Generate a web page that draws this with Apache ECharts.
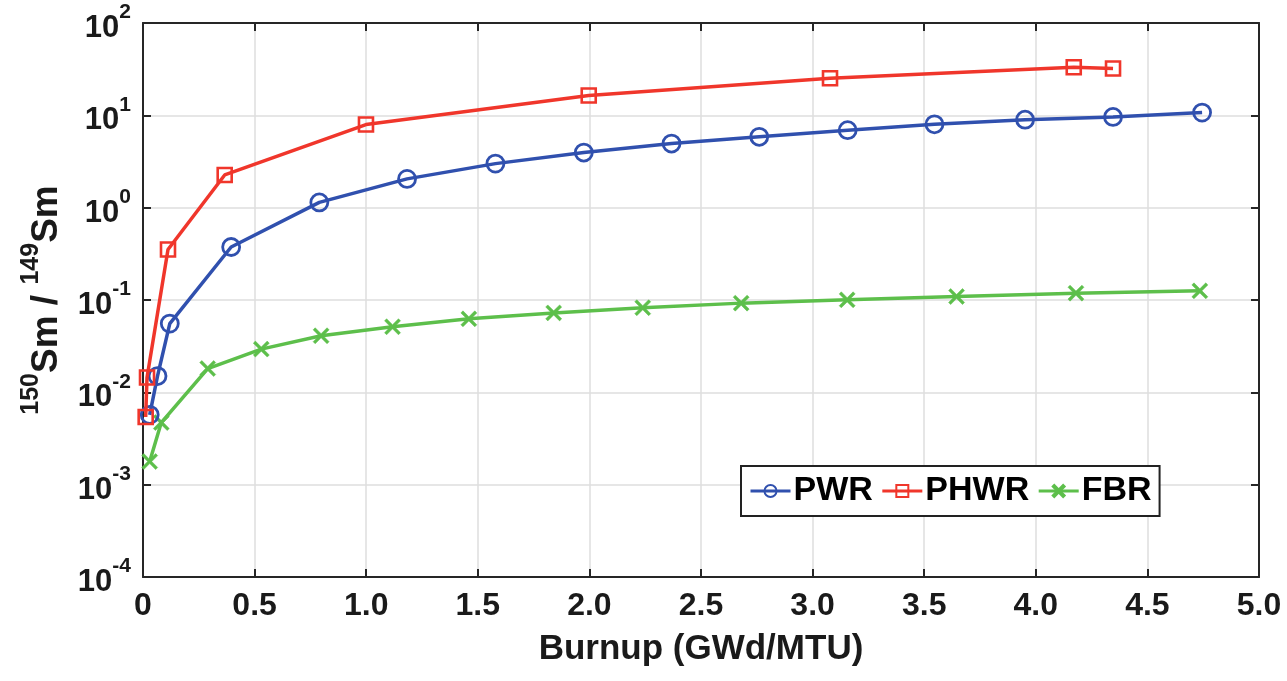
<!DOCTYPE html>
<html>
<head>
<meta charset="utf-8">
<script src="https://cdn.jsdelivr.net/npm/echarts@6/dist/echarts.min.js"></script>
<style>html,body{margin:0;padding:0;background:#fff;}#c{width:1287px;height:681px;}</style>
</head>
<body>
<div id="c"></div>
<script>
// ---- data ----
var pwrX = [0.03, 0.065, 0.12, 0.395, 0.79, 1.183, 1.579, 1.975, 2.368, 2.761, 3.157, 3.546, 3.952, 4.346, 4.745];
var pwrY = [0.0057, 0.0150, 0.0555, 0.375, 1.14, 2.05, 3.0, 3.95, 4.95, 5.85, 6.9, 8.0, 8.97, 9.6, 10.7];

var phwrX = [0.012, 0.018, 0.112, 0.366, 0.999, 1.997, 3.078, 4.17, 4.346];
var phwrY = [0.0054, 0.0145, 0.352, 2.26, 7.95, 16.4, 25.2, 33.2, 32.1];

var fbrX = [0.03, 0.082, 0.29, 0.53, 0.798, 1.118, 1.46, 1.84, 2.239, 2.68, 3.155, 3.645, 4.18, 4.735];
var fbrY = [0.00178, 0.0047, 0.0181, 0.0294, 0.041, 0.0513, 0.0625, 0.0725, 0.0825, 0.0925, 0.1005, 0.109, 0.1186, 0.1256];

var seriesNames = ['PWR', 'PHWR', 'FBR'];
var xTicks = ['0', '0.5', '1.0', '1.5', '2.0', '2.5', '3.0', '3.5', '4.0', '4.5', '5.0'];
var xTitle = 'Burnup (GWd/MTU)';
// -------------

function pairs(xs, ys) { return xs.map(function (x, i) { return [x, ys[i]]; }); }

var FONT = '"Liberation Sans", Arial, Helvetica, sans-serif';
var BLUE = '#3050ae', RED = '#f0362b', GREEN = '#5dbf4b', AX = '#262626', GRID = '#dedede', TXT = '#1a1a1a';
var XSYM = 'path://M0,1.3 L1.3,0 L5,3.7 L8.7,0 L10,1.3 L6.3,5 L10,8.7 L8.7,10 L5,6.3 L1.3,10 L0,8.7 L3.7,5 Z';

var chart = echarts.init(document.getElementById('c'), null, { renderer: 'canvas' });

function yLab(v) {
  var e = Math.round(Math.log10(v));
  return '{b|10}{s|' + e + '}';
}
var yRich = {
  b: { fontSize: 31, fontWeight: 'bold', fontFamily: FONT, color: TXT, verticalAlign: 'bottom', lineHeight: 42 },
  s: { fontSize: 21, fontWeight: 'bold', fontFamily: FONT, color: TXT, verticalAlign: 'top', lineHeight: 21 }
};

var option = {
  backgroundColor: '#fff',
  animation: false,
  grid: { left: 143, right: 28, top: 23, bottom: 104, containLabel: false },
  legend: {
    left: 741, top: 466,
    orient: 'horizontal',
    itemWidth: 40, itemHeight: 15, itemGap: 8,
    padding: [8, 8, 8, 8],
    borderColor: '#222', borderWidth: 2, backgroundColor: '#fff',
    lineStyle: { width: 3 },
    textStyle: { fontSize: 34, fontWeight: 'bold', color: '#000', fontFamily: FONT, padding: [0, 0, 0, -2] },
    data: seriesNames
  },
  xAxis: [{
    type: 'value', min: 0, max: 5, interval: 0.5,
    name: xTitle, nameLocation: 'middle', nameGap: 55,
    nameTextStyle: { fontSize: 35, fontWeight: 'bold', color: TXT, fontFamily: FONT },
    axisLine: { show: true, onZero: false, lineStyle: { color: AX, width: 2 } },
    axisTick: { show: true, inside: true, length: 8, lineStyle: { color: AX, width: 2 } },
    axisLabel: {
      margin: 13, fontSize: 32, fontWeight: 'bold', color: TXT, fontFamily: FONT,
      formatter: function (v) { var i = Math.round(v / 0.5); return xTicks[i]; }
    },
    splitLine: { show: true, lineStyle: { color: GRID, width: 1.5 } }
  }, {
    type: 'value', min: 0, max: 5, interval: 0.5, position: 'top',
    axisLine: { show: true, onZero: false, lineStyle: { color: AX, width: 2 } },
    axisTick: { show: true, inside: true, length: 8, lineStyle: { color: AX, width: 2 } },
    axisLabel: { show: false }, splitLine: { show: false }
  }],
  yAxis: [{
    type: 'log', logBase: 10, min: 1e-4, max: 100,
    name: '{s|150}{b|Sm / }{s|149}{b|Sm}', nameLocation: 'middle', nameGap: 78, nameRotate: 90,
    nameTextStyle: {
      rich: {
        b: { fontSize: 37, fontWeight: 'bold', fontFamily: FONT, color: TXT, verticalAlign: 'bottom', lineHeight: 46 },
        s: { fontSize: 25, fontWeight: 'bold', fontFamily: FONT, color: TXT, verticalAlign: 'top', lineHeight: 25 }
      }
    },
    axisLine: { show: true, onZero: false, lineStyle: { color: AX, width: 2 } },
    axisTick: { show: true, inside: true, length: 8, lineStyle: { color: AX, width: 2 } },
    axisLabel: { margin: 12, formatter: yLab, rich: yRich },
    splitLine: { show: true, lineStyle: { color: GRID, width: 1.5 } },
    minorTick: { show: false }
  }, {
    type: 'log', logBase: 10, min: 1e-4, max: 100, position: 'right',
    axisLine: { show: true, onZero: false, lineStyle: { color: AX, width: 2 } },
    axisTick: { show: true, inside: true, length: 8, lineStyle: { color: AX, width: 2 } },
    axisLabel: { show: false }, splitLine: { show: false }
  }],
  series: [{
    name: seriesNames[0], type: 'line', xAxisIndex: 0, yAxisIndex: 0,
    data: pairs(pwrX, pwrY), clip: false,
    symbol: 'circle', symbolSize: 17,
    lineStyle: { color: BLUE, width: 3.5 },
    itemStyle: { color: 'rgba(255,255,255,0)', borderColor: BLUE, borderWidth: 2.8 },
    z: 3
  }, {
    name: seriesNames[1], type: 'line', xAxisIndex: 0, yAxisIndex: 0,
    data: pairs(phwrX, phwrY), clip: false,
    symbol: 'rect', symbolSize: 14,
    lineStyle: { color: RED, width: 3.5 },
    itemStyle: { color: 'rgba(255,255,255,0)', borderColor: RED, borderWidth: 2.6 },
    z: 4
  }, {
    name: seriesNames[2], type: 'line', xAxisIndex: 0, yAxisIndex: 0,
    data: pairs(fbrX, fbrY), clip: false,
    symbol: XSYM, symbolSize: 16,
    lineStyle: { color: GREEN, width: 3.5 },
    itemStyle: { color: GREEN, borderColor: GREEN, borderWidth: 0.5 },
    z: 2
  }]
};
chart.setOption(option);
</script>
</body>
</html>
